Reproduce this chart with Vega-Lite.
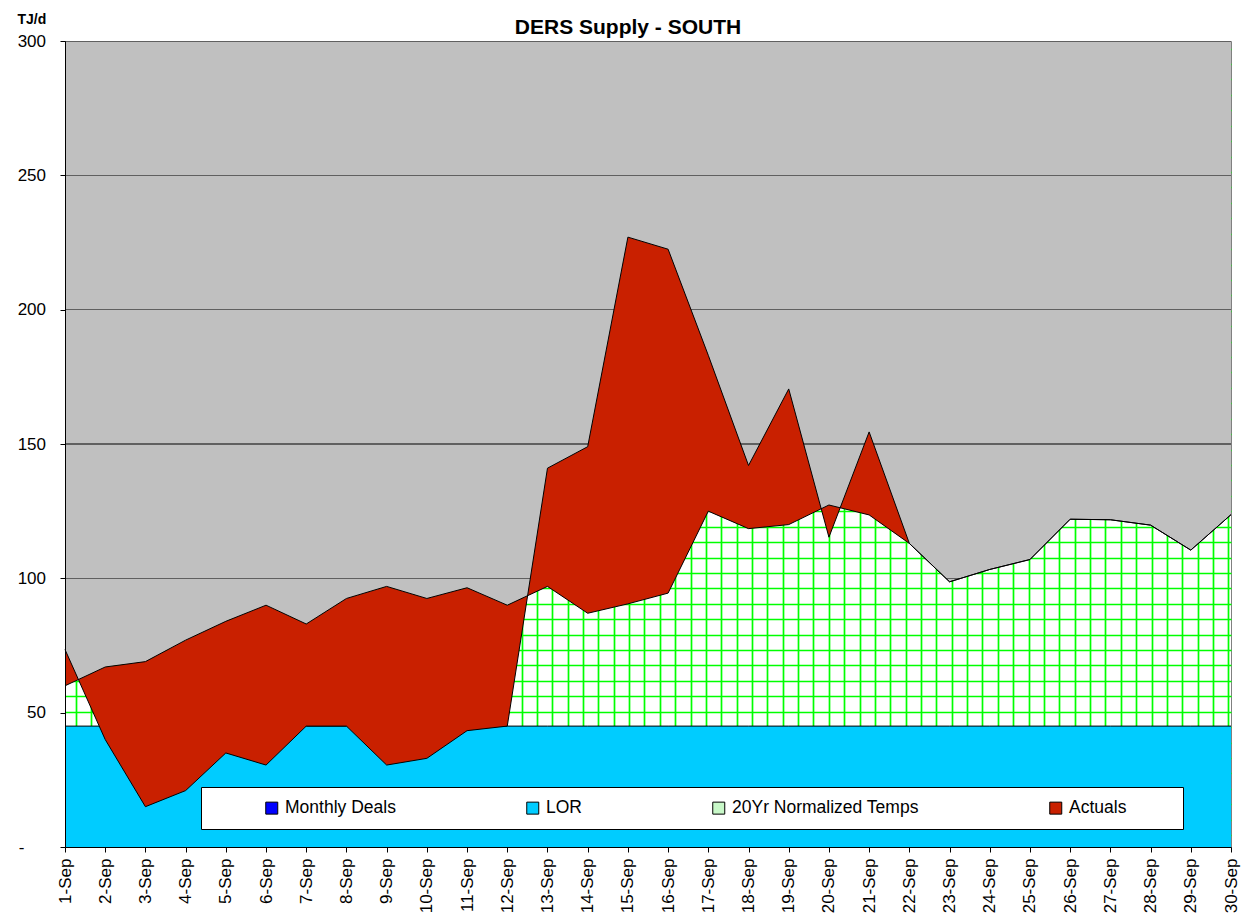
{
  "$schema": "https://vega.github.io/schema/vega-lite/v6.json",
  "width": 1166,
  "height": 806,
  "autosize": {"type": "none"},
  "padding": {"left": 65, "top": 41, "right": 13, "bottom": 75},
  "background": "white",
  "config": {
    "font": "Liberation Sans",
    "view": {"fill": "white", "stroke": "#808080", "strokeWidth": 1}
  },
  "title": {
    "text": "DERS Supply - SOUTH",
    "fontSize": 21,
    "fontWeight": "bold",
    "color": "black",
    "anchor": "middle",
    "frame": "group",
    "dx": -20,
    "dy": 51,
    "baseline": "alphabetic",
    "offset": 8
  },
  "datasets": {
    "supply": [
      {"day": "1-Sep", "norm": 60, "act": 73.5, "lor": 45},
      {"day": "2-Sep", "norm": 67, "act": 40, "lor": 45},
      {"day": "3-Sep", "norm": 69, "act": 15, "lor": 45},
      {"day": "4-Sep", "norm": 77, "act": 21, "lor": 45},
      {"day": "5-Sep", "norm": 84, "act": 35, "lor": 45},
      {"day": "6-Sep", "norm": 90, "act": 30.5, "lor": 45},
      {"day": "7-Sep", "norm": 83, "act": 45, "lor": 45},
      {"day": "8-Sep", "norm": 92.5, "act": 45, "lor": 45},
      {"day": "9-Sep", "norm": 97, "act": 30.5, "lor": 45},
      {"day": "10-Sep", "norm": 92.5, "act": 33, "lor": 45},
      {"day": "11-Sep", "norm": 96.5, "act": 43.3, "lor": 45},
      {"day": "12-Sep", "norm": 90, "act": 45, "lor": 45},
      {"day": "13-Sep", "norm": 97, "act": 141, "lor": 45},
      {"day": "14-Sep", "norm": 87, "act": 149, "lor": 45},
      {"day": "15-Sep", "norm": 90.5, "act": 227, "lor": 45},
      {"day": "16-Sep", "norm": 94.5, "act": 222.5, "lor": 45},
      {"day": "17-Sep", "norm": 125, "act": 183, "lor": 45},
      {"day": "18-Sep", "norm": 118.5, "act": 142, "lor": 45},
      {"day": "19-Sep", "norm": 120, "act": 170.5, "lor": 45},
      {"day": "20-Sep", "norm": 127.3, "act": 115.3, "lor": 45},
      {"day": "21-Sep", "norm": 123.6, "act": 154.5, "lor": 45},
      {"day": "22-Sep", "norm": 113, "act": 113, "lor": 45},
      {"day": "23-Sep", "norm": 98.7, "act": 98.7, "lor": 45},
      {"day": "24-Sep", "norm": 103.3, "act": 103.3, "lor": 45},
      {"day": "25-Sep", "norm": 107, "act": 107, "lor": 45},
      {"day": "26-Sep", "norm": 122, "act": 122, "lor": 45},
      {"day": "27-Sep", "norm": 121.8, "act": 121.8, "lor": 45},
      {"day": "28-Sep", "norm": 119.8, "act": 119.8, "lor": 45},
      {"day": "29-Sep", "norm": 110.5, "act": 110.5, "lor": 45},
      {"day": "30-Sep", "norm": 123.7, "act": 123.7, "lor": 45}
    ],
    "series": [
      {"series": "Monthly Deals"},
      {"series": "LOR"},
      {"series": "20Yr Normalized Temps"},
      {"series": "Actuals"}
    ]
  },
  "data": {"name": "supply"},
  "layer": [
    {
      "mark": {"type": "point", "opacity": 0},
      "encoding": {
        "x": {
          "datum": 1,
          "type": "quantitative",
          "scale": {"domain": [0.284, 76.174], "nice": false, "zero": false},
          "axis": {
            "orient": "top", "grid": true, "gridColor": "#00ff00", "gridWidth": 1.7, "gridOpacity": 1,
            "values": [1,2,3,4,5,6,7,8,9,10,11,12,13,14,15,16,17,18,19,20,21,22,23,24,25,26,27,28,29,30,31,32,33,34,35,36,37,38,39,40,41,42,43,44,45,46,47,48,49,50,51,52,53,54,55,56,57,58,59,60,61,62,63,64,65,66,67,68,69,70,71,72,73,74,75,76],
            "labels": false, "ticks": false, "domain": false, "title": null, "zindex": 0
          }
        },
        "y": {
          "datum": 1,
          "type": "quantitative",
          "scale": {"domain": [0.226, 52.496], "nice": false, "zero": false},
          "axis": {
            "orient": "right", "grid": true, "gridColor": "#00ff00", "gridWidth": 1.7, "gridOpacity": 1,
            "values": [1,2,3,4,5,6,7,8,9,10,11,12,13,14,15,16,17,18,19,20,21,22,23,24,25,26,27,28,29,30,31,32,33,34,35,36,37,38,39,40,41,42,43,44,45,46,47,48,49,50,51,52],
            "labels": false, "ticks": false, "domain": false, "title": null, "zindex": 0
          }
        }
      }
    },
    {
      "layer": [
        {
          "mark": {
            "type": "area",
            "fill": {
              "gradient": "linear", "x1": 0, "y1": 0, "x2": 0, "y2": 1,
              "stops": [
                {"offset": 0, "color": "#606060"},
                {"offset": 0.002, "color": "#606060"},
                {"offset": 0.002, "color": "#c0c0c0"},
                {"offset": 0.20733, "color": "#c0c0c0"},
                {"offset": 0.20733, "color": "#606060"},
                {"offset": 0.20933, "color": "#606060"},
                {"offset": 0.20933, "color": "#c0c0c0"},
                {"offset": 0.41567, "color": "#c0c0c0"},
                {"offset": 0.41567, "color": "#606060"},
                {"offset": 0.41767, "color": "#606060"},
                {"offset": 0.41767, "color": "#c0c0c0"},
                {"offset": 0.624, "color": "#c0c0c0"},
                {"offset": 0.624, "color": "#606060"},
                {"offset": 0.626, "color": "#606060"},
                {"offset": 0.626, "color": "#c0c0c0"},
                {"offset": 0.83233, "color": "#c0c0c0"},
                {"offset": 0.83233, "color": "#606060"},
                {"offset": 0.83433, "color": "#606060"},
                {"offset": 0.83433, "color": "#c0c0c0"},
                {"offset": 1, "color": "#c0c0c0"}
              ]
            }
          },
          "encoding": {
            "x": {
              "field": "day",
              "type": "ordinal",
              "scale": {
                "type": "point",
                "padding": 0,
                "domain": ["1-Sep","2-Sep","3-Sep","4-Sep","5-Sep","6-Sep","7-Sep","8-Sep","9-Sep","10-Sep","11-Sep","12-Sep","13-Sep","14-Sep","15-Sep","16-Sep","17-Sep","18-Sep","19-Sep","20-Sep","21-Sep","22-Sep","23-Sep","24-Sep","25-Sep","26-Sep","27-Sep","28-Sep","29-Sep","30-Sep"]
              },
              "axis": {
                "title": null,
                "orient": "bottom",
                "grid": false,
                "labelAngle": -90,
                "labelFontSize": 17,
                "labelColor": "black",
                "labelPadding": 6,
                "tickSize": 5,
                "tickColor": "black",
                "domainColor": "black",
                "zindex": 1
              }
            },
            "y": {
              "field": "norm",
              "type": "quantitative",
              "scale": {"domain": [0, 300], "nice": false, "zero": true},
              "axis": {
                "title": "TJ/d",
                "orient": "left",
                "titleAngle": 0,
                "titleAlign": "left",
                "titleBaseline": "alphabetic",
                "titleX": -48,
                "titleY": -18,
                "titleFontSize": 14,
                "titleFontWeight": "bold",
                "titleColor": "black",
                "grid": false,
                "values": [0, 50, 100, 150, 200, 250, 300],
                "labelExpr": "datum.value === 0 ? '-' : datum.label",
                "labelFontSize": 17,
                "labelColor": "black",
                "labelPadding": {"condition": {"test": "datum.value === 0", "value": 36}, "value": 14.5},
                "tickSize": 5,
                "tickColor": "black",
                "domainColor": "black",
                "zindex": 1
              }
            },
            "y2": {"datum": 300}
          }
        },
        {
          "mark": {"type": "area", "color": "#00ccff"},
          "encoding": {
            "x": {"field": "day", "type": "ordinal"},
            "y": {"field": "lor", "type": "quantitative"}
          }
        },
        {
          "mark": {"type": "line", "color": "black", "strokeWidth": 1},
          "encoding": {
            "x": {"field": "day", "type": "ordinal"},
            "y": {"field": "lor", "type": "quantitative"}
          }
        },
        {
          "mark": {"type": "area", "color": "#c92000"},
          "encoding": {
            "x": {"field": "day", "type": "ordinal"},
            "y": {"field": "act", "type": "quantitative"},
            "y2": {"field": "norm"}
          }
        },
        {
          "mark": {"type": "line", "color": "black", "strokeWidth": 1},
          "encoding": {
            "x": {"field": "day", "type": "ordinal"},
            "y": {"field": "norm", "type": "quantitative"}
          }
        },
        {
          "mark": {"type": "line", "color": "black", "strokeWidth": 1},
          "encoding": {
            "x": {"field": "day", "type": "ordinal"},
            "y": {"field": "act", "type": "quantitative"}
          }
        },
        {
          "data": {"name": "series"},
          "mark": {"type": "square", "filled": true, "opacity": 0, "size": 1},
          "encoding": {
            "x": {"datum": "1-Sep", "type": "ordinal"},
            "y": {"datum": 0, "type": "quantitative"},
            "color": {
              "field": "series",
              "type": "nominal",
              "scale": {
                "domain": ["Monthly Deals", "LOR", "20Yr Normalized Temps", "Actuals"],
                "range": ["#0000ff", "#00ccff", "#c8f8c8", "#c92000"]
              },
              "legend": {
                "title": "\u00a0",
                "titleOrient": "left",
                "titlePadding": 50,
                "titleFontSize": 17.5,
                "orient": "none",
                "legendX": 136,
                "legendY": 746,
                "direction": "horizontal",
                "columns": 4,
                "columnPadding": 128,
                "padding": 12,
                "fillColor": "white",
                "strokeColor": "black",
                "symbolType": "square",
                "symbolSize": 144,
                "symbolStrokeColor": "black",
                "symbolStrokeWidth": 1,
                "symbolOpacity": 1,
                "labelFontSize": 17.5,
                "labelOffset": 4.5,
                "labelColor": "black",
                "labelLimit": 400,
                "labelExpr": "datum.label === 'Actuals' ? 'Actuals\u00a0\u00a0\u00a0\u00a0\u00a0\u00a0\u00a0\u00a0\u00a0\u200b' : datum.label"
              }
            }
          }
        }
      ]
    }
  ],
  "resolve": {"scale": {"x": "independent", "y": "independent"}}
}
